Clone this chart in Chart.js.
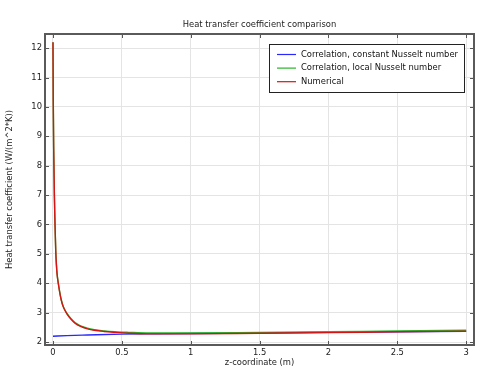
<!DOCTYPE html>
<html>
<head>
<meta charset="utf-8">
<script src="https://cdn.jsdelivr.net/npm/chart.js@4"></script>
<style>
html,body{margin:0;padding:0;background:#fff;}
#wrap{width:498px;height:378px;position:relative;}
</style>
</head>
<body>
<div id="wrap"><canvas id="c" width="498" height="378"></canvas></div>
<script>
const chartTitle = "Heat transfer coefficient comparison";
const xTitle = "z-coordinate (m)";
const yTitle = "Heat transfer coefficient (W/(m^2*K))";
const seriesNames = ["Correlation, constant Nusselt number", "Correlation, local Nusselt number", "Numerical"];
const seriesColors = ["rgb(40,40,255)", "rgb(40,180,40)", "rgb(215,20,20)"];

const zConst = [0, 0.1, 0.25, 0.5, 0.75, 1.0, 1.5, 2.0, 2.5, 3.0];
const hConst = [2.20, 2.22, 2.24, 2.27, 2.28, 2.29, 2.31, 2.33, 2.35, 2.37];

const zLocal = [0, 0.002, 0.005, 0.01, 0.015, 0.02, 0.025, 0.03, 0.04, 0.05, 0.06, 0.07, 0.08, 0.1, 0.13, 0.16, 0.2, 0.25, 0.3, 0.37, 0.45, 0.55, 0.7, 0.85, 1.0, 1.5, 2.0, 2.5, 3.0];
const hLocal = [12.2, 10.2, 8.6, 7.0, 5.95, 5.1, 4.62, 4.31, 3.96, 3.67, 3.44, 3.27, 3.15, 2.98, 2.80, 2.66, 2.55, 2.47, 2.42, 2.38, 2.35, 2.33, 2.31, 2.31, 2.31, 2.33, 2.35, 2.38, 2.40];

const zNum = [0, 0.002, 0.005, 0.01, 0.015, 0.02, 0.025, 0.03, 0.04, 0.05, 0.06, 0.07, 0.08, 0.1, 0.13, 0.16, 0.2, 0.25, 0.3, 0.37, 0.45, 0.55, 0.7, 0.85, 1.0, 1.5, 2.0, 2.5, 3.0];
const hNum = [12.2, 10.2, 8.6, 7.0, 5.95, 5.1, 4.62, 4.3, 3.95, 3.66, 3.43, 3.26, 3.14, 2.97, 2.78, 2.64, 2.53, 2.45, 2.40, 2.36, 2.33, 2.30, 2.28, 2.28, 2.28, 2.30, 2.32, 2.35, 2.37];

const xTicks = [0, 0.5, 1, 1.5, 2, 2.5, 3];
const yTicks = [2, 3, 4, 5, 6, 7, 8, 9, 10, 11, 12];

const FONT = "'DejaVu Sans', sans-serif";
const FS = 8.4;

function pts(xs, ys){ return xs.map((x,i)=>({x:x, y:ys[i]})); }

const framePlugin = {
  id: 'frame',
  afterDraw(chart){
    const ctx = chart.ctx, a = chart.chartArea;
    const xs = chart.scales.x, ys = chart.scales.y;
    ctx.save();
    ctx.strokeStyle = '#555';
    ctx.lineWidth = 1;
    ctx.beginPath();
    xTicks.forEach(v=>{
      const px = Math.round(xs.getPixelForValue(v))+0.5;
      ctx.moveTo(px, a.bottom); ctx.lineTo(px, a.bottom-4);
      ctx.moveTo(px, a.top); ctx.lineTo(px, a.top+4);
    });
    yTicks.forEach(v=>{
      const py = Math.round(ys.getPixelForValue(v))+0.5;
      ctx.moveTo(a.left, py); ctx.lineTo(a.left+4, py);
      ctx.moveTo(a.right, py); ctx.lineTo(a.right-4, py);
    });
    ctx.stroke();
    ctx.lineWidth = 2;
    ctx.strokeStyle = '#5a5a5a';
    ctx.strokeRect(a.left, a.top, a.right-a.left, a.bottom-a.top);

    // title
    ctx.fillStyle = '#222';
    ctx.font = FS + "px " + FONT;
    ctx.textAlign = 'center';
    ctx.textBaseline = 'middle';
    ctx.fillText(chartTitle, (a.left+a.right)/2, 25);

    // legend
    const lx = 269, ly = 44, lw = 195, lh = 48;
    ctx.fillStyle = '#fff';
    ctx.fillRect(lx, ly, lw, lh);
    ctx.lineWidth = 1;
    ctx.strokeStyle = '#222';
    ctx.strokeRect(lx+0.5, ly+0.5, lw, lh);
    chart.data.datasets.forEach((ds,i)=>{
      const yy = 54.5 + i*13.6;
      ctx.strokeStyle = ds.borderColor;
      ctx.lineWidth = 1.2;
      ctx.beginPath(); ctx.moveTo(277, yy); ctx.lineTo(296, yy); ctx.stroke();
      ctx.fillStyle = '#111';
      ctx.textAlign = 'left';
      ctx.fillText(ds.label, 301, yy);
    });
    ctx.restore();
  }
};

new Chart(document.getElementById('c'), {
  type: 'line',
  data: {
    datasets: [
      {label: seriesNames[0], data: pts(zConst, hConst), borderColor: seriesColors[0], order: 2},
      {label: seriesNames[1], data: pts(zLocal, hLocal), borderColor: seriesColors[1], order: 1},
      {label: seriesNames[2], data: pts(zNum, hNum), borderColor: seriesColors[2], order: 0}
    ].map(d=>Object.assign(d,{borderWidth:1.4, pointRadius:0, fill:false, cubicInterpolationMode:'monotone'}))
  },
  options: {
    responsive: false,
    animation: false,
    events: [],
    layout: {padding: {left: 0, top: 34, right: 24, bottom: 10}},
    plugins: {legend: {display:false}, tooltip:{enabled:false}, title:{display:false}},
    scales: {
      x: {
        type: 'linear', min: -0.058, max: 3.057,
        afterBuildTicks(s){ s.ticks = xTicks.map(v=>({value:v})); },
        afterFit(s){ s.height = 23; },
        grid: {color:'#e4e4e4', drawTicks:false, lineWidth:1},
        border: {display:false},
        ticks: {font:{family:FONT, size:FS}, color:'#222', padding:3, maxRotation:0,
                callback:(v)=>String(v)},
        title: {display:true, text:xTitle, font:{family:FONT, size:FS}, color:'#222', padding:{top:0,bottom:0}}
      },
      y: {
        type: 'linear', min: 1.9, max: 12.48,
        afterBuildTicks(s){ s.ticks = yTicks.map(v=>({value:v})); },
        afterFit(s){ s.width = 45; },
        grid: {color:'#e4e4e4', drawTicks:false, lineWidth:1},
        border: {display:false},
        ticks: {font:{family:FONT, size:FS}, color:'#222', padding:3,
                callback:(v)=>String(v)},
        title: {display:true, text:yTitle, font:{family:FONT, size:FS}, color:'#222', padding:{top:5,bottom:0}}
      }
    }
  },
  plugins: [framePlugin]
});
</script>
</body>
</html>
